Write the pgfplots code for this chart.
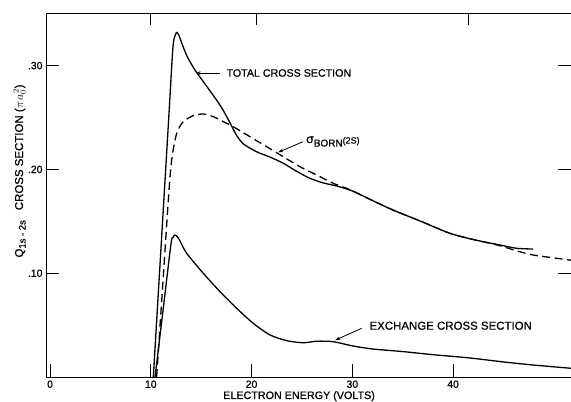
\documentclass[border=0pt]{standalone}
\usepackage{pgfplots}
\pgfplotsset{compat=1.18}
\usepackage{fontspec}
\setmainfont{Liberation Sans}[FakeBold=0.7]
\usetikzlibrary{arrows.meta}

% 1s-2s excitation cross sections of hydrogen by electron impact
\pgfplotstableread{
x      q
10.25  0
11.0   0.1223
11.8   0.2528
12.2   0.318
12.45  0.330
12.6   0.332
12.8   0.329
13.1   0.321
13.6   0.309
14.3   0.297
15.1   0.286
16.0   0.274
17.0   0.260
17.8   0.246
18.5   0.233
19.2   0.2245
20.5   0.217
21.8   0.212
23.15  0.2059
24.5   0.198
25.8   0.1914
27.1   0.187
28.45  0.184
30.07  0.179
32.0   0.170
34.0   0.161
36.8   0.150
39.69  0.1384
42.2   0.132
44.65  0.1272
46.3   0.124
47.93  0.1233
}\totalxs

\pgfplotstableread{
x      q
10.58  0
11.2   0.091
11.74  0.1705
12.07  0.209
12.57  0.2348
13.23  0.246
14.22  0.2518
15.21  0.2534
16.2   0.2508
17.2   0.246
18.19  0.2411
19.84  0.2315
21.5   0.2219
23.15  0.2122
24.8   0.2026
26.46  0.1946
28.11  0.1866
29.44  0.1818
30.07  0.179
32.0   0.170
34.0   0.161
36.8   0.150
39.69  0.1384
42.2   0.132
44.65  0.1265
46.3   0.1215
47.96  0.1175
49.8   0.115
51.7   0.1125
}\bornxs

\pgfplotstableread{
x      q
10.42  0
11.2   0.063
12.0   0.128
12.2   0.1345
12.4   0.1368
12.65  0.135
12.9   0.131
13.56  0.1192
15.21  0.0999
16.87  0.0822
18.52  0.0662
20.17  0.0517
21.83  0.0405
23.49  0.035
25.13  0.033
26.5   0.0345
28.11  0.034
30.0   0.030
32.0   0.027
35.0   0.0245
38.0   0.0215
41.5   0.0185
45.0   0.0145
48.0   0.0115
51.7   0.0084
}\exchxs

\begin{document}
\begin{tikzpicture}[font=\fontsize{10.5}{12}\selectfont]
\begin{axis}[
  scale only axis, width=525bp, height=364bp,
  xmin=-0.4, xmax=51.7, ymin=0, ymax=0.3507,
  axis line style={line width=0.9bp},
  xtick={0,10,20,30,40}, xticklabels={0,10,20,30,40},
  ytick={0.1,0.2,0.3}, yticklabels={.10,.20,.30},
  xtick pos=left, ytick pos=both,
  tick align=inside, major tick length=13bp,
  tick style={line width=0.9bp, black},
  tick label style={font=\fontsize{10.5}{12}\selectfont},
  xlabel={ELECTRON ENERGY (VOLTS)},
  xlabel style={at={(axis description cs:0.482,-0.0604)}, anchor=base,
                font=\fontsize{10.8}{12}\selectfont},
  clip=false,
]
\coordinate (ll) at (rel axis cs:0,0);
\coordinate (ur) at (rel axis cs:1,1);

\addplot[black, line width=1.3bp, smooth, tension=0.45] table[x=x,y=q] {\totalxs};
\addplot[black, line width=1.3bp, smooth, tension=0.45,
         dash pattern=on 8bp off 4.5bp] table[x=x,y=q] {\bornxs};
\addplot[black, line width=1.3bp, smooth, tension=0.45] table[x=x,y=q] {\exchxs};

% curve labels with pointers
\node[anchor=west, font=\fontsize{10.7}{12}\selectfont] at (axis cs:17.17,0.2929) {TOTAL CROSS SECTION};
\draw[line width=0.8bp, -{Stealth[length=5bp,width=3.5bp]}]
  (axis cs:16.9,0.2929) -- (axis cs:14.45,0.2929);

\node[anchor=base west, inner sep=0pt] at (axis cs:25.4,0.2254)
  {{\fontsize{12.5}{12}\selectfont σ}\raisebox{-3.5bp}{\fontsize{10}{11}\selectfont BORN}\raisebox{-0.5bp}{\fontsize{9}{10}\selectfont(2S)}};
\draw[line width=0.8bp, -{Stealth[length=5bp,width=3.5bp]}]
  (axis cs:25.1,0.2267) -- (axis cs:22.65,0.2165);

\node[anchor=west, font=\fontsize{11.5}{12}\selectfont] at (axis cs:31.36,0.0494) {EXCHANGE CROSS SECTION};
\draw[line width=0.8bp, -{Stealth[length=5bp,width=3.5bp]}]
  (axis cs:30.93,0.0469) -- (axis cs:28.3,0.0355);

% vertical axis title
\node[rotate=90, font=\fontsize{11.5}{12}\selectfont] at (axis description cs:-0.05,0.566)
  {Q\raisebox{-2.5bp}{\fontsize{9.5}{10}\selectfont 1s - 2s}\hspace{10bp}CROSS SECTION ($\pi\mskip1mu a_0^{\,2}$)};
\end{axis}

% tick marks along the upper edge
\begin{axis}[
  scale only axis, width=525bp, height=364bp,
  xmin=-0.4, xmax=51.7, ymin=0, ymax=0.3507,
  axis x line*=top, hide y axis,
  axis line style={line width=0.9bp},
  xtick={10,20.5,41.5}, xticklabels={,,},
  tick align=inside, major tick length=12bp,
  tick style={line width=0.9bp, black},
]
\end{axis}

\pgfresetboundingbox
\path[use as bounding box] ([shift={(-46bp,-25bp)}]ll) rectangle ([shift={(0bp,13bp)}]ur);
\end{tikzpicture}
\end{document}
